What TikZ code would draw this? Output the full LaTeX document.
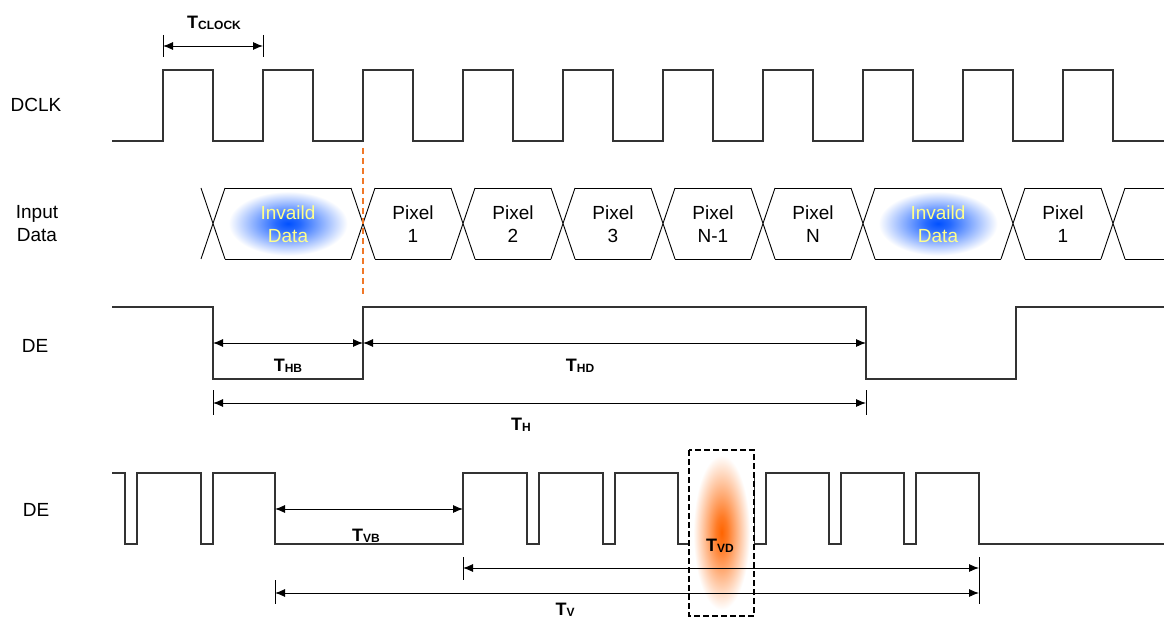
\documentclass[tikz,border=0pt]{standalone}
\usepackage{fontspec}
\setmainfont{Liberation Sans}
\usetikzlibrary{arrows.meta}

\definecolor{paleyellow}{RGB}{255,255,140}
\definecolor{glowblue}{RGB}{0,80,255}
\definecolor{gloworange}{RGB}{255,100,0}
\definecolor{markorange}{RGB}{240,120,40}

% soft glows, white well before the edge of the shaded box
\pgfdeclareradialshading{blueglow}{\pgfpoint{0bp}{0bp}}{color(0bp)=(glowblue); color(5bp)=(glowblue!85); color(15bp)=(glowblue!40); color(24bp)=(white); color(50bp)=(white)}
\pgfdeclareradialshading{orangeglow}{\pgfpoint{0bp}{0bp}}{color(0bp)=(gloworange); color(5bp)=(gloworange!85); color(15bp)=(gloworange!40); color(24bp)=(white); color(50bp)=(white)}

% bold T with a small subscript
\newcommand{\tsym}[1]{\textbf{T\raisebox{-1.5pt}{\fontsize{12}{12}\selectfont #1}}}

\tikzset{
  wave/.style={draw=black!80, line width=1.3pt},
  bus/.style={draw=black, line width=0.9pt},
  dim/.style={{Latex[length=10pt,width=8pt]}-{Latex[length=10pt,width=8pt]}, line width=0.9pt},
  tick/.style={line width=0.9pt},
  sig/.style={font=\fontsize{19}{23}\selectfont, align=center, inner sep=0pt},
  invalid/.style={sig, text=paleyellow},
  tlab/.style={font=\fontsize{18}{20}\selectfont, inner sep=0pt},
}

\begin{document}
\begin{tikzpicture}[x=1pt, y=-1pt]
    \useasboundingbox (0,0) rectangle (1164,620);

    % signal names
    \node[sig] (dclk) at (36, 105) {DCLK};
    \node[sig] (input) at (37, 224) {Input\\Data};
    \node[sig] (de1) at (35, 346) {DE};
    \node[sig] (de2) at (36, 510) {DE};

    % clock
    \draw[wave] (112,141) \foreach \x in {163,263,...,1063} { -- (\x,141) -- (\x,70) -- (\x+50,70) -- (\x+50,141) } -- (1164,141);

    % data bus: crossings at 213 363 463 563 663 763 863 1013 1113
    \foreach \a/\b in {213/363, 363/463, 463/563, 563/663, 663/763, 763/863, 863/1013, 1013/1113}
        \draw[bus] (\a+12,188) -- (\b-12,188) (\a+12,259) -- (\b-12,259);
    \foreach \c in {213, 363, 463, 563, 663, 763, 863, 1013, 1113}
        \draw[bus] (\c-12,188) -- (\c+12,259) (\c-12,259) -- (\c+12,188);
    \draw[bus] (1125,188) -- (1164,188) (1125,259) -- (1164,259);
    % glows and bus texts
    \shade[shading=blueglow] (226,190) rectangle (350,257);
    \shade[shading=blueglow] (876,190) rectangle (1000,257);
    \node[invalid] (inv1) at (288, 224) {Invaild\\Data};
    \node[sig] (px1) at (413, 224) {Pixel\\1};
    \node[sig] (px2) at (513, 224) {Pixel\\2};
    \node[sig] (px3) at (613, 224) {Pixel\\3};
    \node[sig] (pxm) at (713, 224) {Pixel\\N-1};
    \node[sig] (pxn) at (813, 224) {Pixel\\N};
    \node[invalid] (inv2) at (938, 224) {Invaild\\Data};
    \node[sig] (px1b) at (1063, 224) {Pixel\\1};

    % orange marker
    \draw[markorange, line width=1.8pt, dash pattern=on 6pt off 4pt] (363,148) -- (363,296);

    % DE, one line
    \draw[wave] (112,307) -- (213,307) -- (213,379) -- (363,379) -- (363,307) -- (866,307) -- (866,379) -- (1016,379) -- (1016,307) -- (1164,307);

    % DE, one frame
    \draw[wave] (112,473) -- (125,473) -- (125,544) -- (137,544) -- (137,473) -- (201,473) -- (201,544) -- (213,544) -- (213,473)
        -- (275,473) -- (275,544) -- (463,544) -- (463,473) -- (527,473) -- (527,544) -- (539,544) -- (539,473)
        -- (603,473) -- (603,544) -- (615,544) -- (615,473) -- (678,473) -- (678,544) -- (690,544) -- (690,473)
        -- (754,473) -- (754,544) -- (766,544) -- (766,473) -- (829,473) -- (829,544) -- (841,544) -- (841,473)
        -- (904,473) -- (904,544) -- (916,544) -- (916,473) -- (979,473) -- (979,544) -- (1164,544);
    \draw[fill=white, line width=1.5pt, dash pattern=on 6pt off 3pt] (689,450) rectangle (754,616);
    \shade[shading=orangeglow] (692,452) rectangle (751,613);

    % end points of the dimension lines
    \coordinate (ck1) at (163,46);  \coordinate (ck2) at (263,46);
    \coordinate (hb1) at (213,343); \coordinate (hb2) at (363,343); \coordinate (hd2) at (866,343);
    \coordinate (h1) at (213,403);  \coordinate (h2) at (866,403);
    \coordinate (vb1) at (275,509); \coordinate (vb2) at (463,509);
    \coordinate (vd1) at (463,568); \coordinate (vd2) at (979,568);
    \coordinate (v1) at (275,593);  \coordinate (v2) at (979,593);

    % ticks
    \draw[tick] (163,35) -- (163,57) (263,35) -- (263,57);
    \draw[tick] (213,390) -- (213,415) (866,390) -- (866,415);
    \draw[tick] (463,557) -- (463,580) (275,580) -- (275,604) (979,557) -- (979,604);

    % dimension lines
    \draw[dim] (ck1) -- (ck2);
    \draw[dim] (hb1) -- (hb2);
    \draw[dim] (hb2) -- (hd2);
    \draw[dim] (h1) -- (h2);
    \draw[dim] (vb1) -- (vb2);
    \draw[dim] (vd1) -- (vd2);
    \draw[dim] (v1) -- (v2);

    % timing labels
    \node[tlab] (tclock) at (214, 23) {\tsym{CLOCK}};
    \node[tlab] (thb) at (288, 366) {\tsym{HB}};
    \node[tlab] (thd) at (580, 366) {\tsym{HD}};
    \node[tlab] (th) at (521, 425) {\tsym{H}};
    \node[tlab] (tvb) at (366, 536) {\tsym{VB}};
    \node[tlab] (tvd) at (720, 546) {\tsym{VD}};
    \node[tlab] (tv) at (565, 610) {\tsym{V}};
\end{tikzpicture}
\end{document}
